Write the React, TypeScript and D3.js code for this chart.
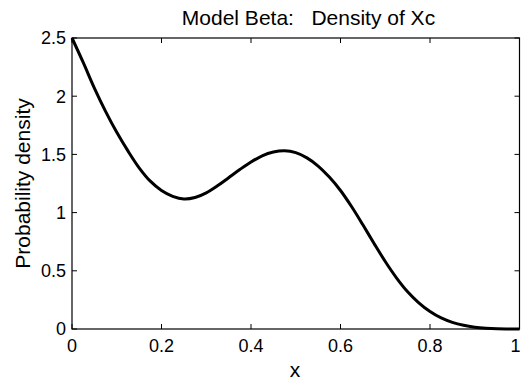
import React from "react";
import * as d3 from "d3";

const xs = [0, 0.025, 0.05, 0.075, 0.1, 0.125, 0.15, 0.175, 0.2, 0.225, 0.25, 0.275, 0.3, 0.325, 0.35, 0.375, 0.4, 0.425, 0.45, 0.475, 0.5, 0.525, 0.55, 0.575, 0.6, 0.625, 0.65, 0.675, 0.7, 0.725, 0.75, 0.775, 0.8, 0.825, 0.85, 0.875, 0.9, 0.925, 0.95, 0.975, 1];
const ys = [2.5, 2.29, 2.07, 1.87, 1.69, 1.53, 1.385, 1.27, 1.19, 1.14, 1.117, 1.13, 1.17, 1.23, 1.30, 1.37, 1.435, 1.488, 1.52, 1.531, 1.515, 1.47, 1.40, 1.305, 1.19, 1.05, 0.895, 0.735, 0.58, 0.44, 0.32, 0.225, 0.15, 0.095, 0.057, 0.032, 0.016, 0.007, 0.002, 0.0005, 0];
const xTicks = [0, 0.2, 0.4, 0.6, 0.8, 1];
const yTicks = [0, 0.5, 1, 1.5, 2, 2.5];
const title = "Model Beta:   Density of Xc";
const xLabel = "x";
const yLabel = "Probability density";

export default function App() {
  const W = 521, H = 383;
  const L = 72, R = 519.5, T = 38, B = 329;
  const x = d3.scaleLinear().domain([0, 1]).range([L, R]);
  const y = d3.scaleLinear().domain([0, 2.5]).range([B, T]);
  const pts = xs.map((v, i) => [v, ys[i]] as [number, number]);
  const line = d3.line<[number, number]>().x(d => x(d[0])).y(d => y(d[1])).curve(d3.curveCatmullRom.alpha(0.5));
  const font = "Liberation Sans, Arial, sans-serif";
  const tl = 5;
  return (
    <svg width={W} height={H} style={{ position: "absolute", left: 0, top: 0, background: "#fff" }} fontFamily={font}>
      <rect x={0} y={0} width={W} height={H} fill="#fff" />
      {xTicks.map(t => {
        const px = x(t);
        const edge = px + 5 > W;
        return (
          <g key={"x" + t}>
            <line x1={px} x2={px} y1={B} y2={B - tl} stroke="#000" />
            <line x1={px} x2={px} y1={T} y2={T + tl} stroke="#000" />
            <text x={edge ? W - 0.5 : px} y={352} fontSize={18} textAnchor={edge ? "end" : "middle"}>{String(t)}</text>
          </g>
        );
      })}
      {yTicks.map(t => (
        <g key={"y" + t}>
          <line x1={L} x2={L + tl} y1={y(t)} y2={y(t)} stroke="#000" />
          <line x1={R} x2={R - tl} y1={y(t)} y2={y(t)} stroke="#000" />
          <text x={66} y={y(t)} dy="0.36em" fontSize={18} textAnchor="end">{String(t)}</text>
        </g>
      ))}
      <path d={line(pts) || ""} fill="none" stroke="#000" strokeWidth={3} strokeLinejoin="round" />
      <rect x={L} y={T} width={R - L} height={B - T} fill="none" stroke="#000" strokeWidth={1.2} />
      <text x={308.5} y={24.5} fontSize={21} textAnchor="middle" style={{ whiteSpace: "pre" }}>{title}</text>
      <text x={295} y={377} fontSize={21} textAnchor="middle">{xLabel}</text>
      <text transform={`translate(30,${(T + B) / 2}) rotate(-90)`} fontSize={21} textAnchor="middle">{yLabel}</text>
    </svg>
  );
}
